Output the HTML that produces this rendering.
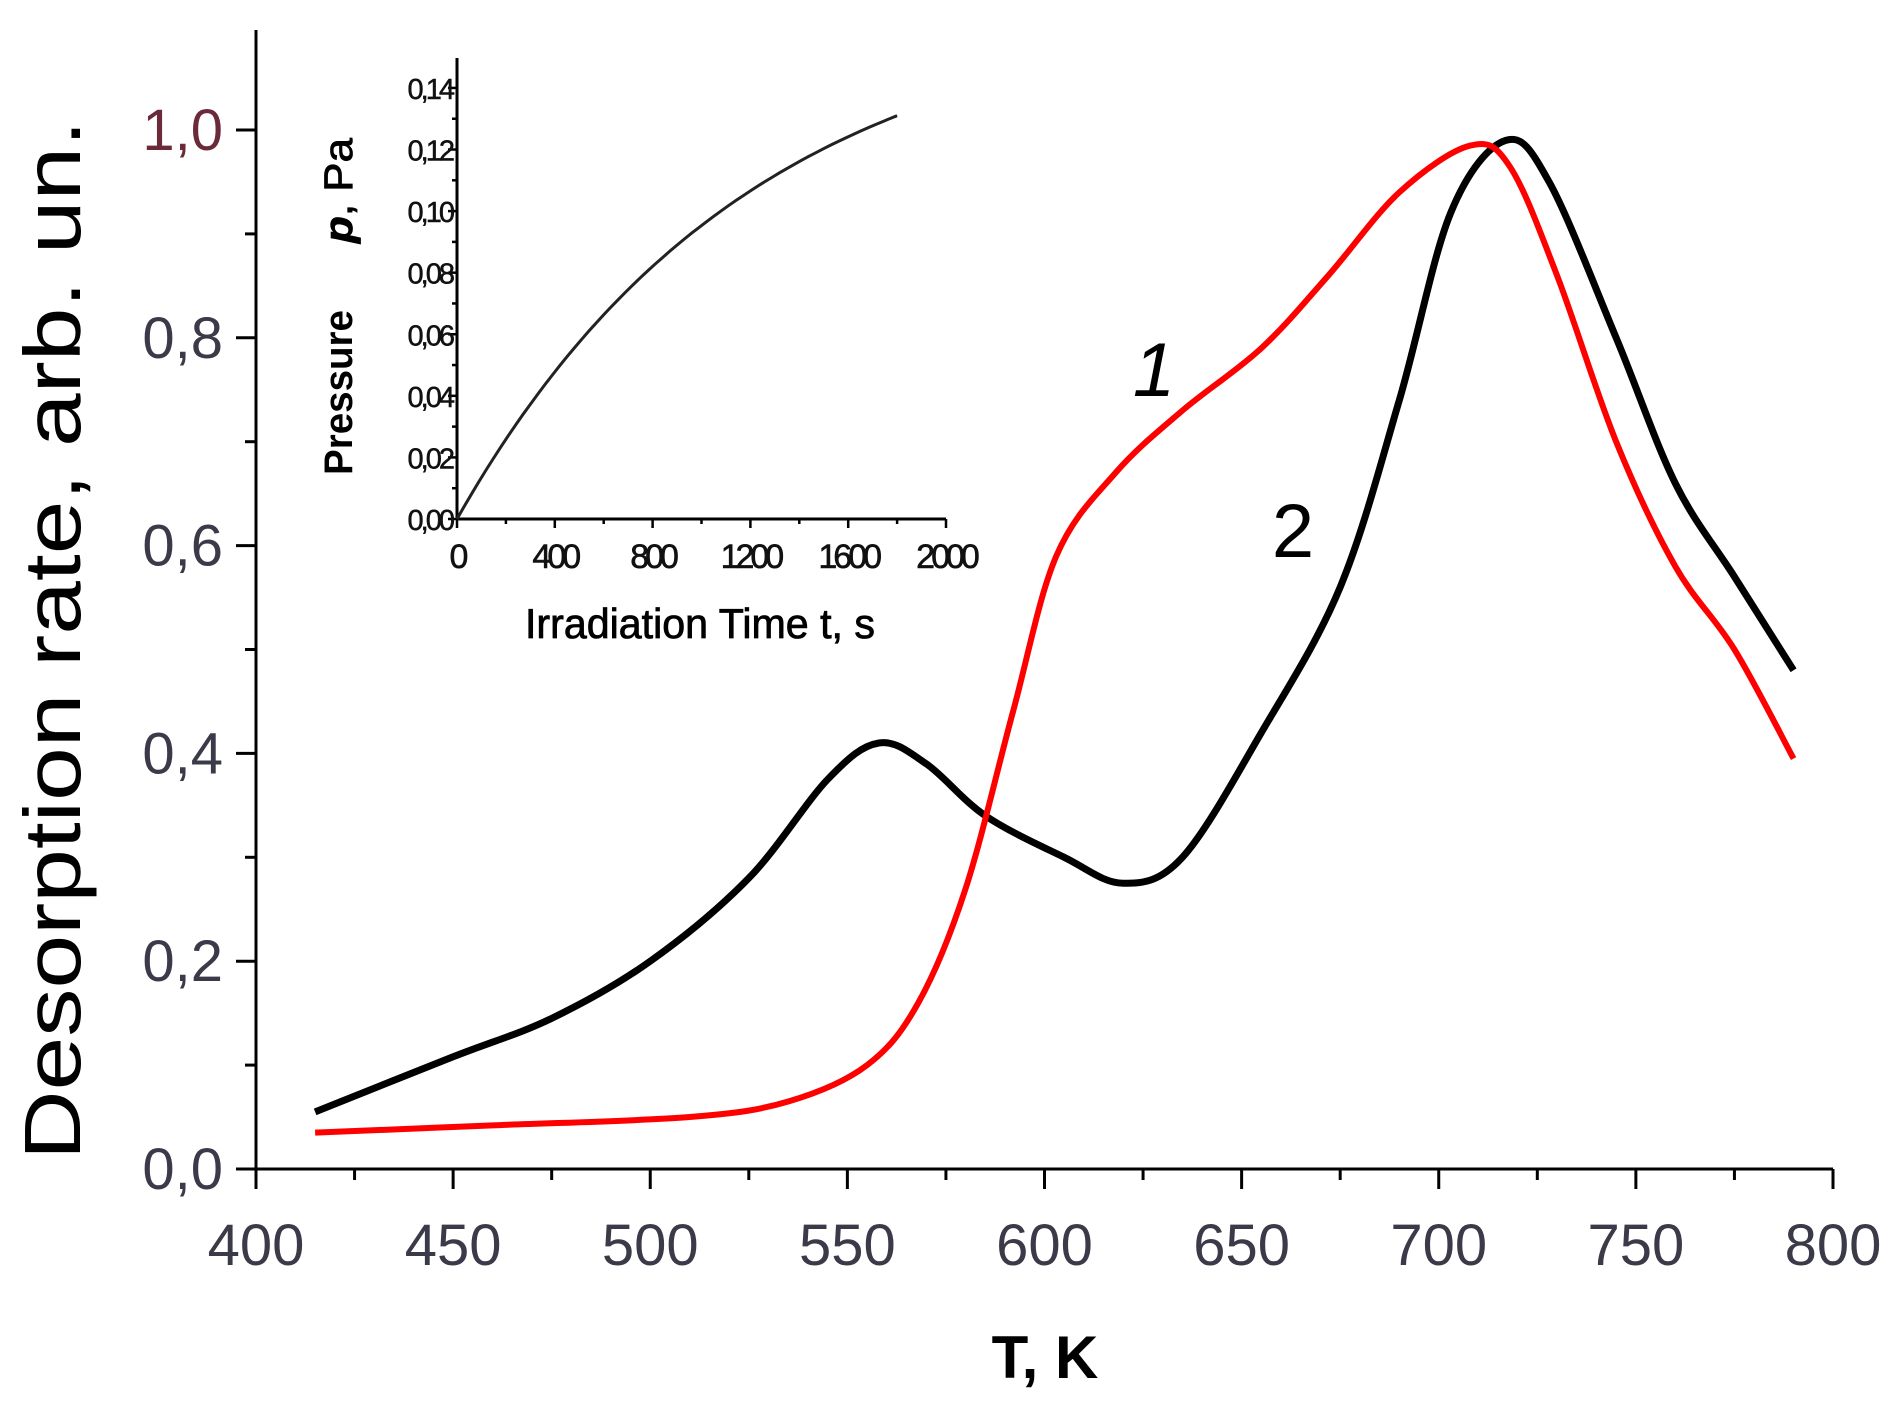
<!DOCTYPE html>
<html><head><meta charset="utf-8"><style>
html,body{margin:0;padding:0;background:#fff;}
svg{display:block;}
text{font-family:"Liberation Sans",sans-serif;}
</style></head><body>
<svg id="s" width="1894" height="1414" viewBox="0 0 1894 1414" xmlns="http://www.w3.org/2000/svg"></svg>
<script>
const s=document.getElementById('s');let h='';
const X=T=>256+(T-400)*3.9425, Y=v=>1169-v*1039;
h+=`<line x1="256" y1="30" x2="256" y2="1169" stroke="#000" stroke-width="3"/>`;
h+=`<line x1="256" y1="1169" x2="1833" y2="1169" stroke="#000" stroke-width="3"/>`;
for(let T=400;T<=800;T+=25){const maj=T%50==0;h+=`<line x1="${X(T)}" y1="1169" x2="${X(T)}" y2="${1169+(maj?20:11)}" stroke="#000" stroke-width="3"/>`;
 if(maj)h+=`<text x="${X(T)}" y="1265" font-size="58" text-anchor="middle" fill="#3a3a48">${T}</text>`;}
for(let i=0;i<=10;i++){const v=i/10,maj=i%2==0;h+=`<line x1="256" y1="${Y(v)}" x2="${256-(maj?20:11)}" y2="${Y(v)}" stroke="#000" stroke-width="3"/>`;
 if(maj)h+=`<text x="223" y="${Y(v)+20}" font-size="58" text-anchor="end" fill="${i==10?'#6a2a3a':'#3a3a48'}">${(v).toFixed(1).replace('.',',')}</text>`;}
h+=`<text transform="translate(80,640) rotate(-90)" font-size="80" text-anchor="middle" textLength="1040" lengthAdjust="spacingAndGlyphs">Desorption rate, arb. un.</text>`;
h+=`<text x="1045" y="1378" font-size="60" font-weight="bold" text-anchor="middle">T, K</text>`;
function path(pts){const p=pts.map(a=>[X(a[0]),Y(a[1])]);let d=`M${p[0][0]},${p[0][1]}`;
 for(let i=0;i<p.length-1;i++){const p0=p[i-1]||p[i],p1=p[i],p2=p[i+1],p3=p[i+2]||p2;
 d+=` C${p1[0]+(p2[0]-p0[0])/6},${p1[1]+(p2[1]-p0[1])/6} ${p2[0]-(p3[0]-p1[0])/6},${p2[1]-(p3[1]-p1[1])/6} ${p2[0]},${p2[1]}`;}return d;}
const blk=[[415,0.055],[450,0.108],[475,0.145],[500,0.2],[525,0.28],[545,0.375],[558,0.41],[570,0.39],[585,0.34],[605,0.3],[620,0.275],[635,0.3],[655,0.42],[675,0.56],[690,0.74],[703,0.92],[717,0.99],[728,0.95],[745,0.8],[760,0.66],[775,0.57],[790,0.48]];
const red=[[415,0.035],[460,0.042],[510,0.05],[535,0.065],[555,0.1],[568,0.16],[580,0.27],[592,0.44],[603,0.59],[618,0.67],[635,0.73],[655,0.79],[672,0.86],[690,0.94],[708,0.985],[718,0.965],[730,0.86],[745,0.7],[760,0.58],[775,0.5],[790,0.395]];
h+=`<path d="${path(blk)}" fill="none" stroke="#000" stroke-width="7"/>`;
h+=`<path d="${path(red)}" fill="none" stroke="#f00" stroke-width="6"/>`;
h+=`<text x="1154" y="396" font-size="76" font-style="italic" text-anchor="middle">1</text>`;
h+=`<text x="1293" y="557" font-size="76" text-anchor="middle">2</text>`;
const ix=t=>457+t*0.2445, iy=p=>519-p*3079;
h+=`<line x1="457" y1="58" x2="457" y2="519" stroke="#000" stroke-width="3"/>`;
h+=`<line x1="457" y1="519" x2="946" y2="519" stroke="#000" stroke-width="3"/>`;
for(let t=0;t<=2000;t+=200){const m=t%400==0;h+=`<line x1="${ix(t)}" y1="519" x2="${ix(t)}" y2="${519+(m?9:5)}" stroke="#000" stroke-width="2.5"/>`;
 if(m)h+=`<text x="${ix(t)}" y="568" font-size="34" text-anchor="middle" letter-spacing="-4" fill="#111" stroke="#111" stroke-width="0.6">${t}</text>`;}
for(let i=0;i<=14;i++){const p=i/100,m=i%2==0;h+=`<line x1="457" y1="${iy(p)}" x2="${457-(m?9:5)}" y2="${iy(p)}" stroke="#000" stroke-width="2.5"/>`;
 if(m)h+=`<text x="452" y="${iy(p)+11}" font-size="29" text-anchor="end" letter-spacing="-3" fill="#111" stroke="#111" stroke-width="0.5">${p.toFixed(2).replace('.',',')}</text>`;}
let d='';for(let t=0;t<=1800;t+=30){const p=0.1686*(1-Math.exp(-t/1200));d+=(t?'L':'M')+ix(t).toFixed(1)+','+iy(p).toFixed(1);}
h+=`<path d="${d}" fill="none" stroke="#222" stroke-width="3"/>`;
h+=`<text x="700" y="638" font-size="42" text-anchor="middle" textLength="350" lengthAdjust="spacingAndGlyphs" stroke="#000" stroke-width="0.8">Irradiation Time t, s</text>`;
h+=`<text transform="translate(352,475) rotate(-90)" font-size="40" font-weight="bold" textLength="165" lengthAdjust="spacingAndGlyphs">Pressure</text>`;
h+=`<text transform="translate(352,243) rotate(-90)" font-size="40" textLength="105" lengthAdjust="spacingAndGlyphs" stroke="#000" stroke-width="0.8"><tspan font-style="italic" font-weight="bold">p</tspan>, Pa</text>`;
s.innerHTML=h;
</script>
</body></html>
